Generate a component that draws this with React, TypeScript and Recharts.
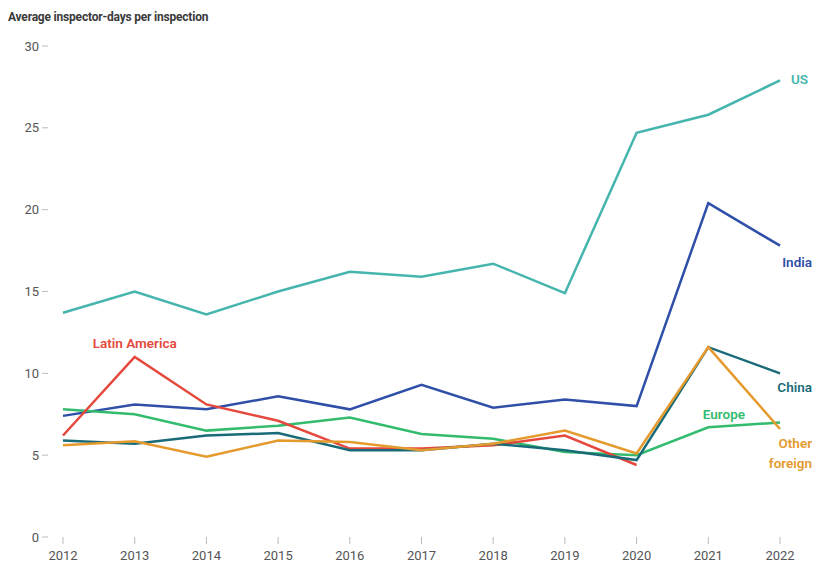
import { LineChart, Line, XAxis, YAxis } from "recharts";

const years = ["2012", "2013", "2014", "2015", "2016", "2017", "2018", "2019", "2020", "2021", "2022"];
const usVals = [13.7, 15.0, 13.6, 15.0, 16.2, 15.9, 16.7, 14.9, 24.7, 25.8, 27.9];
const indiaVals = [7.4, 8.1, 7.8, 8.6, 7.8, 9.3, 7.9, 8.4, 8.0, 20.4, 17.8];
const chinaVals = [5.9, 5.7, 6.2, 6.35, 5.3, 5.3, 5.7, 5.3, 4.7, 11.6, 10.0];
const europeVals = [7.8, 7.5, 6.5, 6.8, 7.3, 6.3, 6.0, 5.2, 5.0, 6.7, 7.0];
const latinVals = [6.2, 11.0, 8.1, 7.1, 5.4, 5.4, 5.6, 6.2, 4.4, null, null];
const otherVals = [5.6, 5.85, 4.9, 5.9, 5.8, 5.3, 5.7, 6.5, 5.1, 11.6, 6.6];
const yTicks = [0, 5, 10, 15, 20, 25, 30];

const data = years.map((year, i) => ({
  year,
  us: usVals[i],
  india: indiaVals[i],
  china: chinaVals[i],
  europe: europeVals[i],
  latin: latinVals[i],
  other: otherVals[i],
}));

const FONT = "Roboto, 'Noto Sans', sans-serif";
const C = {
  us: "#45b5ad",
  india: "#2f4fa8",
  china: "#1a6b78",
  europe: "#33bb6e",
  latin: "#e5483c",
  other: "#e59a2e",
};

// label drawn only at one point of the series, offset from it
function seriesLabel(at: number, lines: string[], color: string, dx: number, dy: number, anchor: "start" | "middle" | "end") {
  return (p: any) => {
    if (p.index !== at || p.x == null || p.y == null) return null;
    return (
      <text
        key={"lbl-" + lines[0]}
        x={p.x + dx}
        y={p.y + dy}
        textAnchor={anchor}
        fill={color}
        fontFamily={FONT}
        fontSize={13.5}
        fontWeight={600}
      >
        {lines.map((t, k) => (
          <tspan key={k} x={p.x + dx} dy={k === 0 ? 0 : 20}>
            {t}
          </tspan>
        ))}
      </text>
    );
  };
}

export default function App() {
  return (
    <div style={{ position: "absolute", left: 0, top: 0, width: 813, height: 587, background: "#fff" }}>
      <div
        style={{
          position: "absolute",
          left: 8,
          top: 10,
          fontFamily: FONT,
          fontSize: 12,
          fontWeight: 700,
          color: "#3a3a3a",
          letterSpacing: -0.2,
        }}
      >
        Average inspector-days per inspection
      </div>
      <LineChart width={813} height={587} data={data} margin={{ top: 46, right: 33, left: 0, bottom: 0 }}>
        <XAxis
          dataKey="year"
          axisLine={false}
          tickLine={{ stroke: "#bbb" }}
          tickSize={7}
          tickMargin={7}
          height={50}
          padding={{ left: 15, right: 0 }}
          tick={{ fill: "#555", fontSize: 13, fontFamily: FONT }}
        />
        <YAxis
          domain={[0, 30]}
          ticks={yTicks}
          axisLine={false}
          tickLine={{ stroke: "#bbb" }}
          tickSize={6}
          tickMargin={3}
          width={48}
          tick={{ fill: "#555", fontSize: 13, fontFamily: FONT }}
        />
        <Line dataKey="us" stroke={C.us} strokeWidth={2.5} dot={false} isAnimationActive={false}
          label={seriesLabel(10, ["US"], C.us, 11, 4, "start")} />
        <Line dataKey="india" stroke={C.india} strokeWidth={2.5} dot={false} isAnimationActive={false}
          label={seriesLabel(10, ["India"], C.india, 32, 21, "end")} />
        <Line dataKey="europe" stroke={C.europe} strokeWidth={2.5} dot={false} isAnimationActive={false}
          label={seriesLabel(10, ["Europe"], C.europe, -35, -3, "end")} />
        <Line dataKey="latin" stroke={C.latin} strokeWidth={2.5} dot={false} isAnimationActive={false}
          label={seriesLabel(1, ["Latin America"], C.latin, 0, -9, "middle")} />
        <Line dataKey="china" stroke={C.china} strokeWidth={2.5} dot={false} isAnimationActive={false}
          label={seriesLabel(10, ["China"], C.china, 32, 19, "end")} />
        <Line dataKey="other" stroke={C.other} strokeWidth={2.5} dot={false} isAnimationActive={false}
          label={seriesLabel(10, ["Other", "foreign"], C.other, 32, 19, "end")} />
      </LineChart>
    </div>
  );
}
